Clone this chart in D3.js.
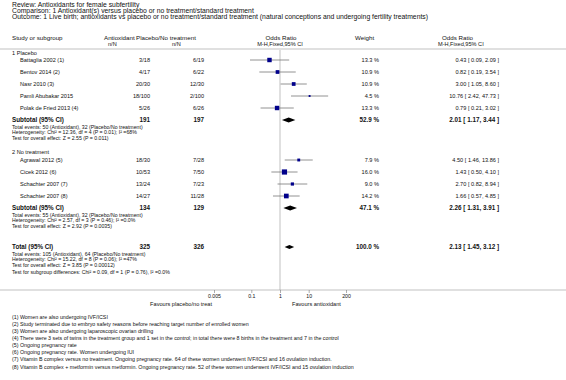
<!DOCTYPE html>
<html>
<head>
<meta charset="utf-8">
<script src="https://cdn.jsdelivr.net/npm/d3@7"></script>
<style>
  body { margin: 0; background: #fff; }
  svg { display: block; font-family: "Liberation Sans", Arial, sans-serif; }
</style>
</head>
<body>
<svg id="chart" width="566" height="380"></svg>
<script>
// header texts
let titleLines = [
  "Review:   Antioxidants for female subfertility",
  "Comparison:   1 Antioxidant(s) versus placebo or no treatment/standard treatment",
  "Outcome:   1 Live birth; antioxidants vs placebo or no treatment/standard treatment (natural conceptions and undergoing fertility treatments)"
];

// study data
let studies = ["Battaglia 2002 (1)", "Bentov 2014 (2)", "Nasr 2010 (3)", "Pamli Abubakar 2015", "Polak de Fried 2013 (4)",
               "Agrawal 2012 (5)", "Cicek 2012 (6)", "Schachter 2007 (7)", "Schachter 2007 (8)"];
let antioxidant = ["3/18", "4/17", "20/30", "18/100", "5/26", "18/30", "10/53", "13/24", "14/27"];
let placebo = ["6/19", "6/22", "12/30", "2/100", "6/26", "7/28", "7/50", "7/23", "11/28"];
let weight = [13.3, 10.9, 10.9, 4.5, 13.3, 7.9, 16.0, 9.0, 14.2];
let or = [0.43, 0.82, 3.00, 10.76, 0.79, 4.50, 1.43, 2.70, 1.66];
let lo = [0.09, 0.19, 1.05, 2.42, 0.21, 1.46, 0.50, 0.82, 0.57];
let hi = [2.09, 3.54, 8.60, 47.73, 3.02, 13.86, 4.10, 8.94, 4.85];

// subgroups and total
let groupNames = ["1 Placebo", "2 No treatment"];
let pooledLabels = ["Subtotal (95% CI)", "Subtotal (95% CI)", "Total (95% CI)"];
let pooledAnti = [191, 134, 325];
let pooledPlac = [197, 129, 326];
let pooledWeight = [52.9, 47.1, 100.0];
let pooledOr = [2.01, 2.26, 2.13];
let pooledLo = [1.17, 1.31, 1.45];
let pooledHi = [3.44, 3.91, 3.12];
let pooledNotes = [
  ["Total events: 50 (Antioxidant), 32 (Placebo/No treatment)",
   "Heterogeneity: Chi\u00b2 = 12.36, df = 4 (P = 0.01); I\u00b2 =68%",
   "Test for overall effect: Z = 2.55 (P = 0.011)"],
  ["Total events: 55 (Antioxidant), 32 (Placebo/No treatment)",
   "Heterogeneity: Chi\u00b2 = 2.57, df = 3 (P = 0.46); I\u00b2 =0.0%",
   "Test for overall effect: Z = 2.92 (P = 0.0035)"],
  ["Total events: 105 (Antioxidant), 64 (Placebo/No treatment)",
   "Heterogeneity: Chi\u00b2 = 15.22, df = 8 (P = 0.06); I\u00b2 =47%",
   "Test for overall effect: Z = 3.85 (P = 0.00012)",
   "Test for subgroup differences: Chi\u00b2 = 0.09, df = 1 (P = 0.76), I\u00b2 =0.0%"]
];

let tickValues = [0.005, 0.1, 1, 10, 200];
let tickLabels = ["0.005", "0.1", "1", "10", "200"];

let footnotes = [
  "(1) Women are also undergoing IVF/ICSI",
  "(2) Study terminated due to embryo safety reasons before reaching target number of enrolled women",
  "(3) Women are also undergoing laparoscopic ovarian drilling",
  "(4) There were 3 sets of twins in the treatment group and 1 set in the control; in total there were 8 births in the treatment and 7 in the control",
  "(5) Ongoing pregnancy rate",
  "(6) Ongoing pregnancy rate. Women undergoing IUI",
  "(7) Vitamin B complex versus no treatment. Ongoing pregnancy rate. 64 of these women underwent IVF/ICSI and 16 ovulation induction.",
  "(8) Vitamin B complex + metformin versus metformin. Ongoing pregnancy rate. 52 of these women underwent IVF/ICSI and 15 ovulation induction"
];

/**
 * layout: column positions and row positions
 */
let x0 = 12, xIndent = 20,
    xAnti = 150, xPlac = 204, xWeight = 379, xOrText = 499;
let fs = 5.6, fsHead = 6.2, fsTitle = 6.8, fsSmall = 5.2, fsBold = 6.3, fsFoot = 5.3;
let axisY = 290;
let studyY = [60, 72, 84, 96, 108, 160, 172, 184, 196];
let groupY = [53, 152];
let pooledY = [120, 208, 247];
let footY = 317, footStep = 7.1;

let svg = d3.select("#chart");

let x = d3.scaleLog().domain([0.005, 200]).range([214, 346]);
let boxSize = d3.scaleLinear().domain([0, 16]).range([0.6, 5.2]);

function txt(t, xx, yy, opts) {
  opts = opts || {};
  return svg.append("text")
    .attr("x", xx).attr("y", yy).attr("dy", "0.35em")
    .attr("font-size", opts.size || fs)
    .attr("font-weight", opts.bold ? "bold" : null)
    .attr("text-anchor", opts.anchor || "start")
    .attr("fill", "#111")
    .text(t);
}

// title block
titleLines.forEach(function (t, i) { txt(t, x0, 4.5 + i * 6.2, { size: fsTitle }); });

// column headers
txt("Study or subgroup", x0, 38, { size: fsHead });
txt("Antioxidant", 104, 38, { size: fsHead });
txt("Placebo/No treatment", 136, 38, { size: fsHead });
txt("Odds Ratio", 281, 38, { anchor: "middle", size: fsHead });
txt("Weight", 355, 38, { size: fsHead });
txt("Odds Ratio", 442, 38, { size: fsHead });
txt("n/N", 108, 44);
txt("n/N", 172, 44);
txt("M-H,Fixed,95% CI", 280, 44, { anchor: "middle" });
txt("M-H,Fixed,95% CI", 438, 44);

// header rule
svg.append("line").attr("x1", 0).attr("x2", 566).attr("y1", 49).attr("y2", 49)
  .attr("stroke", "#999").attr("stroke-width", 0.6);

// line of no effect
svg.append("line").attr("x1", x(1)).attr("x2", x(1)).attr("y1", 50).attr("y2", axisY)
  .attr("stroke", "#d0d0d0").attr("stroke-width", 1.3);

// group headings
groupNames.forEach(function (g, i) { txt(g, x0, groupY[i]); });

// study rows
studies.forEach(function (s, i) {
  let y = studyY[i];
  txt(s, xIndent, y);
  txt(antioxidant[i], xAnti, y, { anchor: "end" });
  txt(placebo[i], xPlac, y, { anchor: "end" });
  txt(weight[i].toFixed(1) + " %", xWeight, y, { anchor: "end" });
  txt(or[i].toFixed(2) + " [ " + lo[i].toFixed(2) + ", " + hi[i].toFixed(2) + " ]", xOrText, y, { anchor: "end" });

  svg.append("line")
    .attr("x1", x(lo[i])).attr("x2", x(hi[i]))
    .attr("y1", y).attr("y2", y)
    .attr("stroke", "#777").attr("stroke-width", 0.8);
  let b = boxSize(weight[i]);
  svg.append("rect")
    .attr("x", x(or[i]) - b / 2).attr("y", y - b / 2)
    .attr("width", b).attr("height", b)
    .attr("fill", "#00008b");
});

// pooled rows with diamonds
pooledLabels.forEach(function (p, i) {
  let y = pooledY[i];
  txt(p, x0, y, { bold: true, size: fsBold });
  txt(pooledAnti[i], xAnti, y, { bold: true, size: fsBold, anchor: "end" });
  txt(pooledPlac[i], xPlac, y, { bold: true, size: fsBold, anchor: "end" });
  txt(pooledWeight[i].toFixed(1) + " %", xWeight, y, { bold: true, size: fsBold, anchor: "end" });
  txt(pooledOr[i].toFixed(2) + " [ " + pooledLo[i].toFixed(2) + ", " + pooledHi[i].toFixed(2) + " ]", xOrText, y,
      { bold: true, size: fsBold, anchor: "end" });

  let h = i === 2 ? 2.1 : 2.5;
  svg.append("path")
    .attr("d", "M" + x(pooledLo[i]) + "," + y + "L" + x(pooledOr[i]) + "," + (y - h) +
               "L" + x(pooledHi[i]) + "," + y + "L" + x(pooledOr[i]) + "," + (y + h) + "Z")
    .attr("fill", "#000");

  pooledNotes[i].forEach(function (n, j) {
    let extra = j === 3 ? 1 : 0;
    txt(n, x0, y + 7 + j * 5.6 + extra, { size: fsSmall });
  });
});

// axis
svg.append("line").attr("x1", 0).attr("x2", 566).attr("y1", axisY).attr("y2", axisY)
  .attr("stroke", "#999").attr("stroke-width", 0.6);
let axis = svg.append("g")
  .attr("transform", "translate(0," + axisY + ")")
  .call(d3.axisBottom(x).tickValues(tickValues).tickSize(3).tickPadding(1)
    .tickFormat(function (d, i) { return tickLabels[i]; }));
axis.select(".domain").remove();
axis.selectAll("line").attr("stroke", "#777").attr("stroke-width", 0.6);
axis.selectAll("text").attr("font-size", fsSmall).attr("fill", "#111")
  .attr("font-family", "Liberation Sans, Arial, sans-serif");

txt("Favours placebo/no treat", 212, axisY + 14, { anchor: "end" });
txt("Favours antioxidant", 292, axisY + 14);

// footnotes
footnotes.forEach(function (f, i) { txt(f, x0, footY + i * footStep, { size: fsFoot }); });
</script>
</body>
</html>
